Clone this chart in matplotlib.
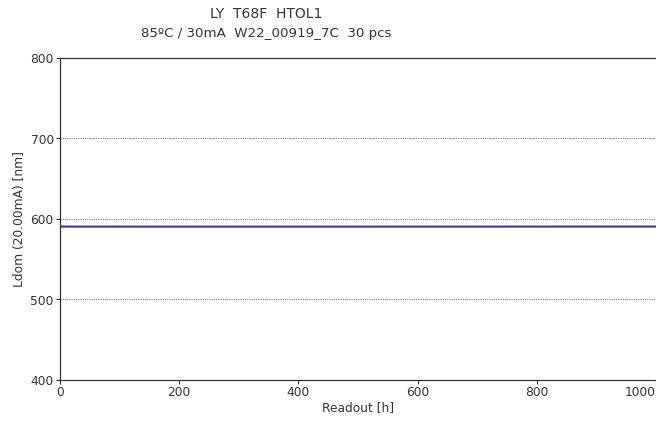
import numpy as np
import matplotlib.pyplot as plt

# readout times [h] and dominant wavelength of a few sample parts [nm]
readout = [0, 168, 500, 1000]
ldom_a = [590.6, 590.6, 590.5, 590.6]
ldom_b = [590.4, 590.4, 590.4, 590.5]
ldom_c = [590.8, 590.7, 590.8, 590.8]

x_ticks = [0, 200, 400, 600, 800, 1000]
y_ticks = [400, 500, 600, 700, 800]

plt.rcParams['font.family'] = ['DejaVu Sans']

fig = plt.figure(figsize=(6.56, 4.23), dpi=100)
ax = fig.add_axes([60 / 656, 1 - 380 / 423, 596 / 656, 322 / 423])

for ys, col in zip([ldom_b, ldom_a, ldom_c], ["#6a5cb8", "#3d2f8f", "#4a3a9c"]):
    ax.plot(readout, ys, color=col, lw=1.1)

ax.set_xlim(0, 1000)
ax.set_ylim(400, 800)
ax.set_xticks(x_ticks)
ax.set_yticks(y_ticks)
ax.tick_params(axis='both', labelsize=8.8, length=3, width=0.8, colors='#333333',
               labelcolor='#333333', pad=1.5)
# last x label is pushed inside the picture, as in the original software
ax.get_xticklabels()[-1].set_horizontalalignment('right')
for y in [500, 600, 700]:
    ax.axhline(y, color='#777777', lw=0.8, ls=(0, (1, 1)), zorder=0)

ax.spines['right'].set_visible(False)
for s in ['left', 'bottom', 'top']:
    ax.spines[s].set_linewidth(0.9)
    ax.spines[s].set_color('#333333')

ax.set_xlabel("Readout [h]", fontsize=8.8, color='#333333', labelpad=1)
ax.set_ylabel("Ldom (20.00mA) [nm]", fontsize=8.8, color='#333333', labelpad=3)

fig.text(266 / 656, 1 - 14 / 423, "LY  T68F  HTOL1", ha='center', va='center',
         fontsize=10, color='#333333')
fig.text(266 / 656, 1 - 34 / 423, "85ºC / 30mA  W22_00919_7C  30 pcs", ha='center',
         va='center', fontsize=9.6, color='#333333')

fig.savefig("out.png", dpi=100)
